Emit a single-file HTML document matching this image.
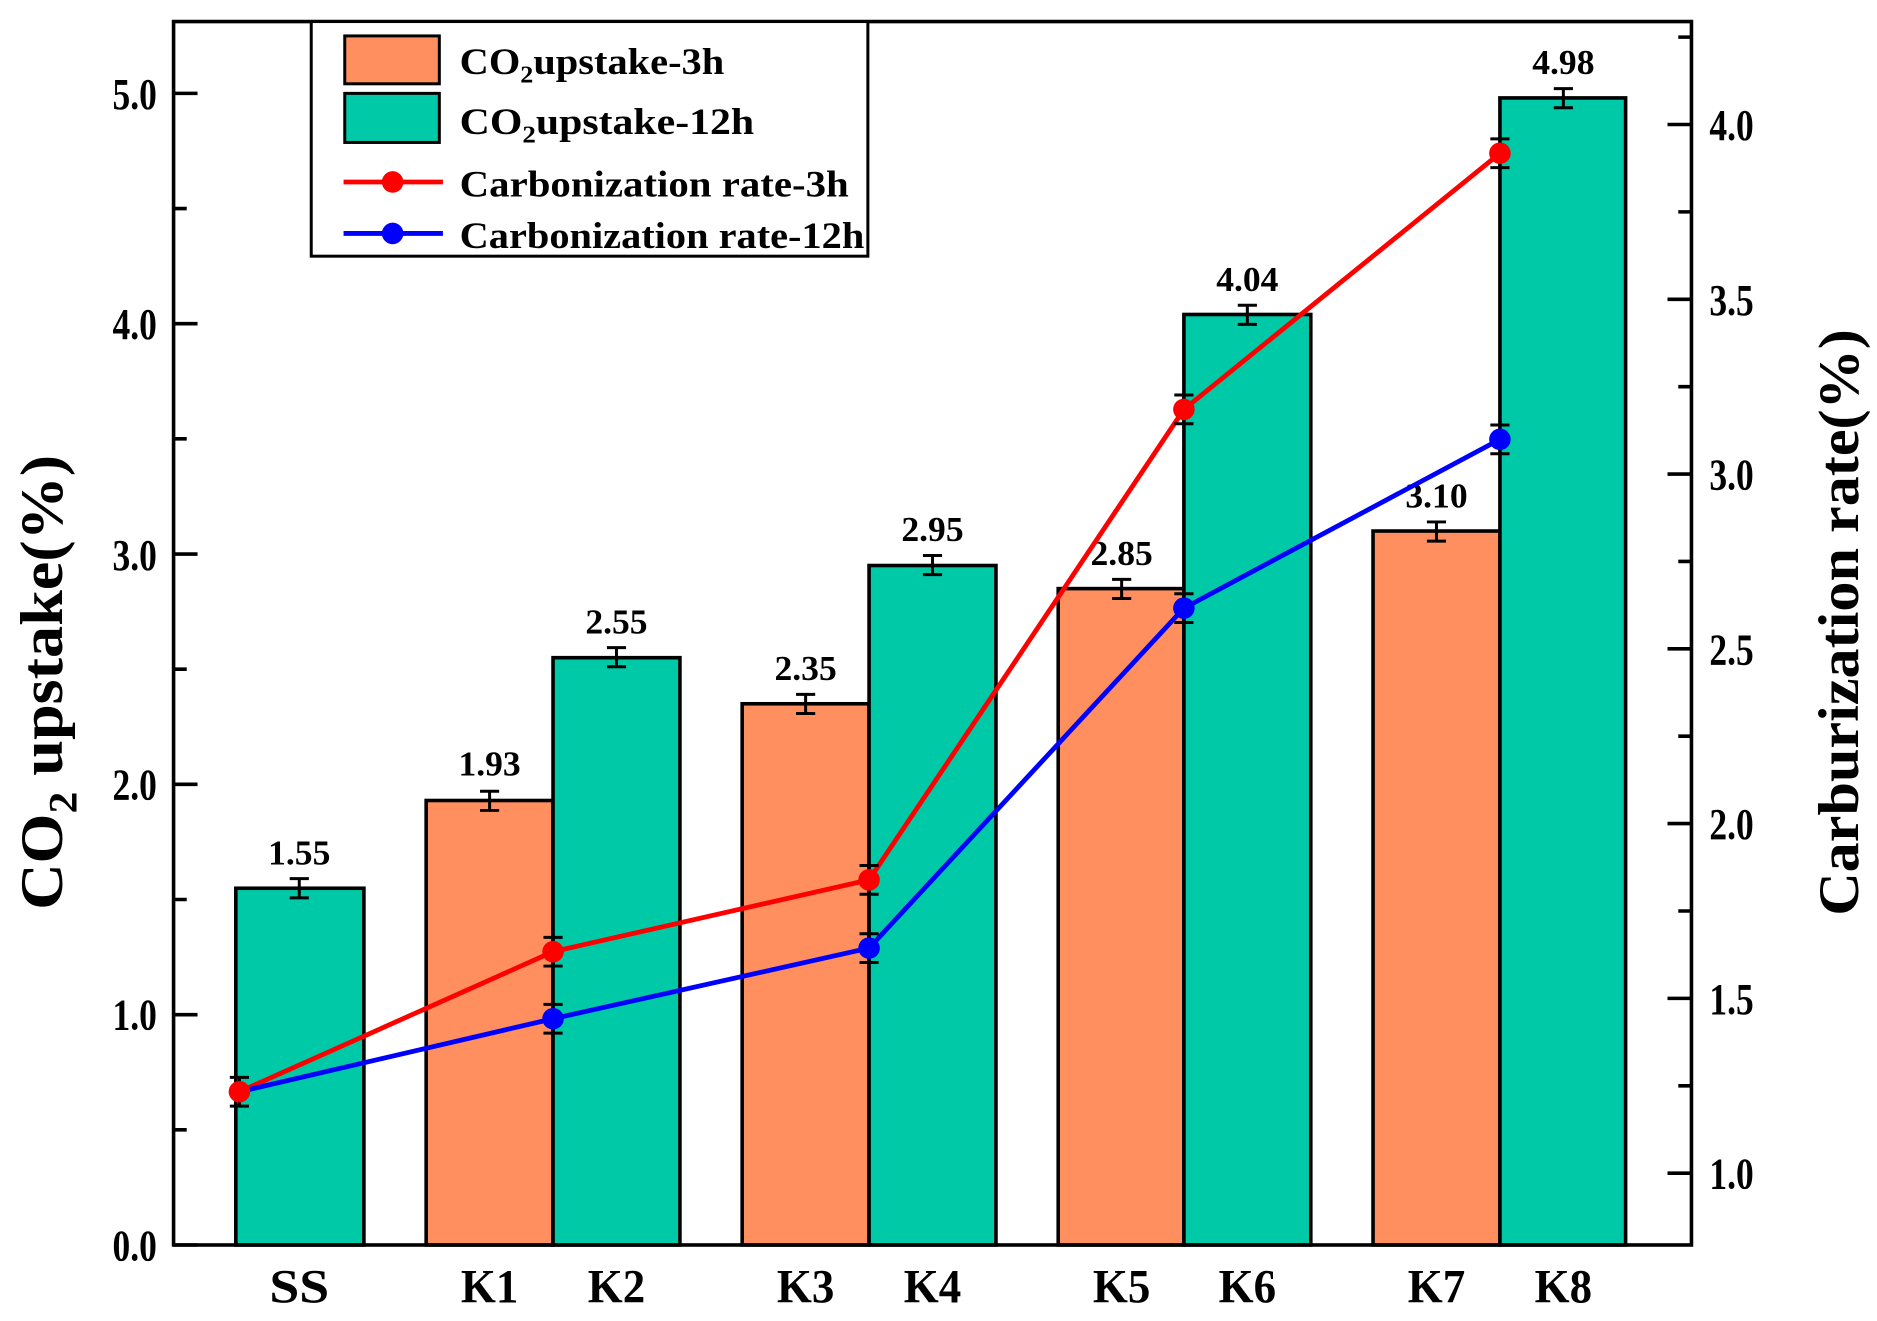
<!DOCTYPE html>
<html><head><meta charset="utf-8"><style>html,body{margin:0;padding:0;background:#fff}svg{display:block}</style></head>
<body>
<svg width="1877" height="1321" viewBox="0 0 1568 1103.5" preserveAspectRatio="none" xmlns="http://www.w3.org/2000/svg" font-family="Liberation Serif, serif" font-weight="bold">
<rect width="1568" height="1103.5" fill="#fff"/>
<g stroke="#000" stroke-width="3">
<rect x="197" y="742" width="107" height="298" fill="#00C9A7"/>
<rect x="356" y="668.7" width="106" height="371.3" fill="#FF8F5F"/>
<rect x="462" y="549.4" width="106" height="490.6" fill="#00C9A7"/>
<rect x="620" y="587.9" width="106" height="452.1" fill="#FF8F5F"/>
<rect x="726" y="472.4" width="106" height="567.6" fill="#00C9A7"/>
<rect x="884" y="491.7" width="105" height="548.3" fill="#FF8F5F"/>
<rect x="989" y="262.7" width="106" height="777.3" fill="#00C9A7"/>
<rect x="1147" y="443.6" width="106" height="596.4" fill="#FF8F5F"/>
<rect x="1253" y="81.8" width="105" height="958.2" fill="#00C9A7"/>
</g>
<g stroke="#000" stroke-width="2.5" fill="none">
<path d="M250 734v16M242 734h16M242 750h16"/>
<path d="M409 661v16M401 661h16M401 677h16"/>
<path d="M515 541v16M507 541h16M507 557h16"/>
<path d="M673 580v16M665 580h16M665 596h16"/>
<path d="M779 464v16M771 464h16M771 480h16"/>
<path d="M937 484v16M929 484h16M929 500h16"/>
<path d="M1042 255v16M1034 255h16M1034 271h16"/>
<path d="M1200 436v16M1192 436h16M1192 452h16"/>
<path d="M1306 74v16M1298 74h16M1298 90h16"/>
</g>
<g font-size="29" text-anchor="middle" lengthAdjust="spacingAndGlyphs">
<text x="250" y="722" textLength="52" lengthAdjust="spacingAndGlyphs">1.55</text>
<text x="409" y="648" textLength="52" lengthAdjust="spacingAndGlyphs">1.93</text>
<text x="515" y="529" textLength="52" lengthAdjust="spacingAndGlyphs">2.55</text>
<text x="673" y="568" textLength="52" lengthAdjust="spacingAndGlyphs">2.35</text>
<text x="779" y="452" textLength="52" lengthAdjust="spacingAndGlyphs">2.95</text>
<text x="937" y="472" textLength="52" lengthAdjust="spacingAndGlyphs">2.85</text>
<text x="1042" y="243" textLength="52" lengthAdjust="spacingAndGlyphs">4.04</text>
<text x="1200" y="424" textLength="52" lengthAdjust="spacingAndGlyphs">3.10</text>
<text x="1306" y="62" textLength="52" lengthAdjust="spacingAndGlyphs">4.98</text>
</g>
<polyline points="200,912 462,795 726,735 989,342 1253,128" fill="none" stroke="#f00" stroke-width="4"/>
<polyline points="200,912 462,851 726,792 989,508 1253,367" fill="none" stroke="#00f" stroke-width="4"/>
<g stroke="#000" stroke-width="2.5" fill="none">
<path d="M200 900v24M192 900h16M192 924h16"/>
<path d="M462 783v24M454 783h16M454 807h16"/>
<path d="M726 723v24M718 723h16M718 747h16"/>
<path d="M989 330v24M981 330h16M981 354h16"/>
<path d="M1253 116v24M1245 116h16M1245 140h16"/>
<path d="M462 839v24M454 839h16M454 863h16"/>
<path d="M726 780v24M718 780h16M718 804h16"/>
<path d="M989 496v24M981 496h16M981 520h16"/>
<path d="M1253 355v24M1245 355h16M1245 379h16"/>
</g>
<g fill="#f00"><circle cx="462" cy="795" r="9"/><circle cx="726" cy="735" r="9"/><circle cx="989" cy="342" r="9"/><circle cx="1253" cy="128" r="9"/></g>
<g fill="#00f"><circle cx="462" cy="851" r="9"/><circle cx="726" cy="792" r="9"/><circle cx="989" cy="508" r="9"/><circle cx="1253" cy="367" r="9"/></g>
<circle cx="200" cy="912" r="9" fill="#f00"/>
<rect x="145" y="18" width="1268" height="1022" fill="none" stroke="#000" stroke-width="3"/>
<g stroke="#000" stroke-width="3">
<path d="M145 1040h20M145 847.6h20M145 655.2h20M145 462.8h20M145 270.4h20M145 78h20"/>
<path d="M145 943.8h11M145 751.4h11M145 559h11M145 366.6h11M145 174.2h11"/>
<path d="M1413 980h-20M1413 834h-20M1413 688h-20M1413 542h-20M1413 396h-20M1413 250h-20M1413 104h-20"/>
<path d="M1413 907h-11M1413 761h-11M1413 615h-11M1413 469h-11M1413 323h-11M1413 177h-11M1413 31h-11"/>
</g>
<g font-size="37" text-anchor="end">
<text x="131" y="1053" textLength="37" lengthAdjust="spacingAndGlyphs">0.0</text>
<text x="131" y="860" textLength="37" lengthAdjust="spacingAndGlyphs">1.0</text>
<text x="131" y="668" textLength="37" lengthAdjust="spacingAndGlyphs">2.0</text>
<text x="131" y="476" textLength="37" lengthAdjust="spacingAndGlyphs">3.0</text>
<text x="131" y="283" textLength="37" lengthAdjust="spacingAndGlyphs">4.0</text>
<text x="131" y="91" textLength="37" lengthAdjust="spacingAndGlyphs">5.0</text>
</g>
<g font-size="37">
<text x="1428" y="993" textLength="37" lengthAdjust="spacingAndGlyphs">1.0</text>
<text x="1428" y="847" textLength="37" lengthAdjust="spacingAndGlyphs">1.5</text>
<text x="1428" y="701" textLength="37" lengthAdjust="spacingAndGlyphs">2.0</text>
<text x="1428" y="555" textLength="37" lengthAdjust="spacingAndGlyphs">2.5</text>
<text x="1428" y="409" textLength="37" lengthAdjust="spacingAndGlyphs">3.0</text>
<text x="1428" y="263" textLength="37" lengthAdjust="spacingAndGlyphs">3.5</text>
<text x="1428" y="117" textLength="37" lengthAdjust="spacingAndGlyphs">4.0</text>
</g>
<g font-size="40" text-anchor="middle">
<text x="250" y="1088" textLength="50" lengthAdjust="spacingAndGlyphs">SS</text>
<text x="409" y="1088" textLength="48" lengthAdjust="spacingAndGlyphs">K1</text>
<text x="515" y="1088" textLength="48" lengthAdjust="spacingAndGlyphs">K2</text>
<text x="673" y="1088" textLength="48" lengthAdjust="spacingAndGlyphs">K3</text>
<text x="779" y="1088" textLength="48" lengthAdjust="spacingAndGlyphs">K4</text>
<text x="937" y="1088" textLength="48" lengthAdjust="spacingAndGlyphs">K5</text>
<text x="1042" y="1088" textLength="48" lengthAdjust="spacingAndGlyphs">K6</text>
<text x="1200" y="1088" textLength="48" lengthAdjust="spacingAndGlyphs">K7</text>
<text x="1306" y="1088" textLength="48" lengthAdjust="spacingAndGlyphs">K8</text>
</g>
<text transform="translate(52,570) rotate(-90)" font-size="50" text-anchor="middle" textLength="380" lengthAdjust="spacingAndGlyphs">CO<tspan font-size="34" dy="12">2</tspan><tspan dy="-12"> upstake(%)</tspan></text>
<text transform="translate(1552,520) rotate(-90)" font-size="48" text-anchor="middle" textLength="490" lengthAdjust="spacingAndGlyphs">Carburization rate(%)</text>
<rect x="260" y="18" width="465" height="196" fill="#fff" stroke="#000" stroke-width="2.5"/>
<rect x="288" y="30" width="79" height="40" fill="#FF8F5F" stroke="#000" stroke-width="2.5"/>
<rect x="288" y="78" width="79" height="41" fill="#00C9A7" stroke="#000" stroke-width="2.5"/>
<line x1="287" y1="152" x2="370" y2="152" stroke="#f00" stroke-width="4"/><circle cx="328" cy="152" r="9" fill="#f00"/>
<line x1="287" y1="195" x2="370" y2="195" stroke="#00f" stroke-width="4"/><circle cx="328" cy="195" r="9" fill="#00f"/>
<g font-size="31">
<text x="384" y="62" textLength="221" lengthAdjust="spacingAndGlyphs">CO<tspan font-size="20" dy="7">2</tspan><tspan dy="-7">upstake-3h</tspan></text>
<text x="384" y="112" textLength="246" lengthAdjust="spacingAndGlyphs">CO<tspan font-size="20" dy="7">2</tspan><tspan dy="-7">upstake-12h</tspan></text>
<text x="384" y="164" textLength="325" lengthAdjust="spacingAndGlyphs">Carbonization rate-3h</text>
<text x="384" y="207" textLength="338" lengthAdjust="spacingAndGlyphs">Carbonization rate-12h</text>
</g>
</svg>
</body></html>
